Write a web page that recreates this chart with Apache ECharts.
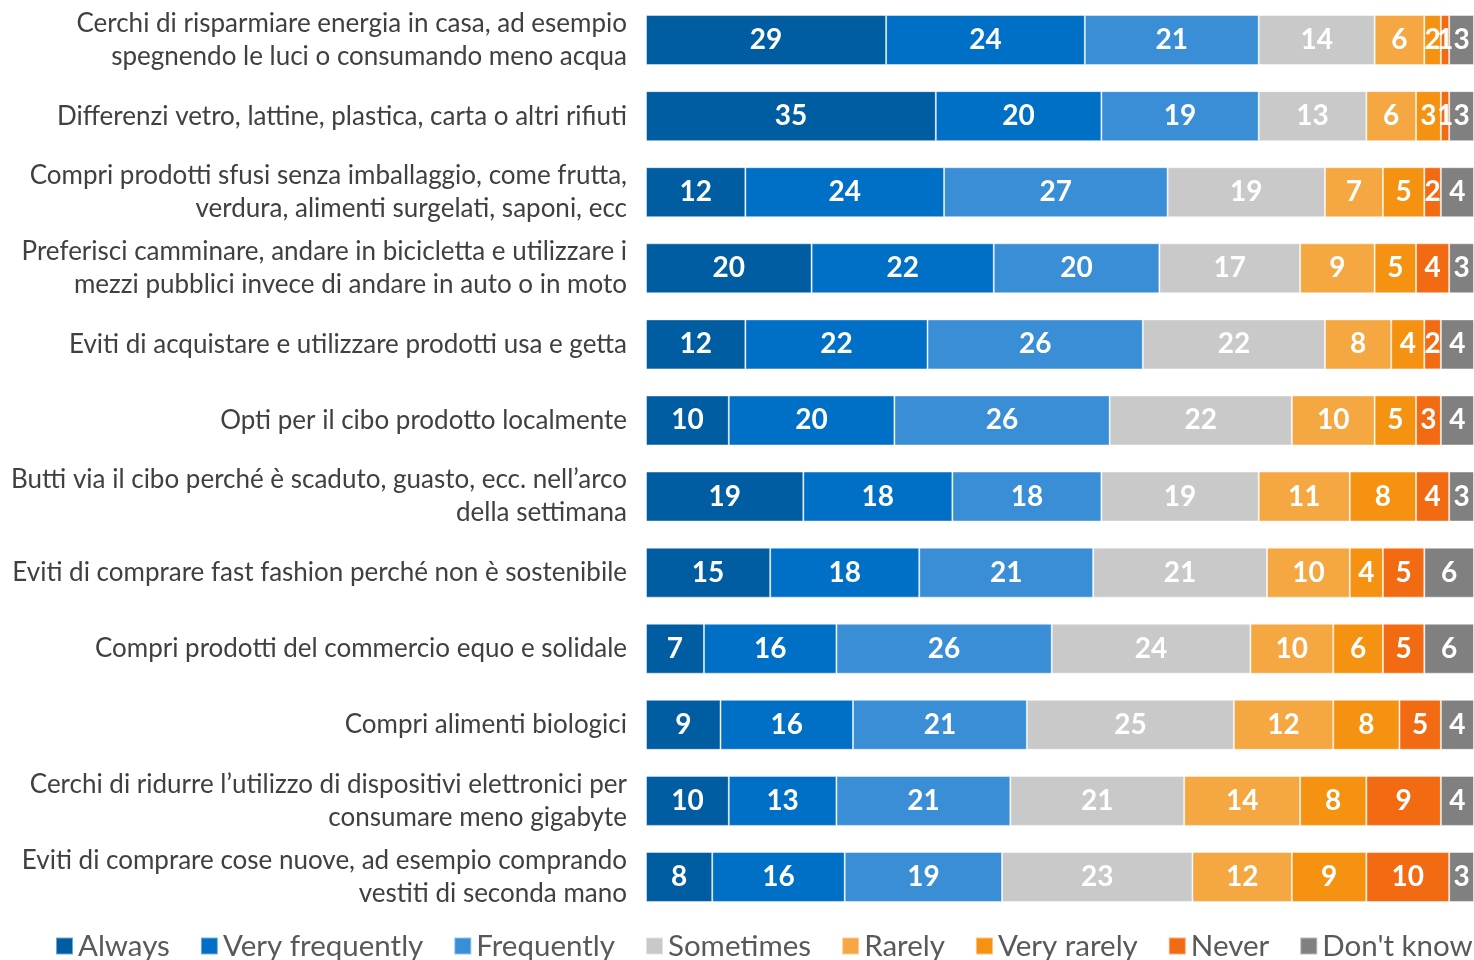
<!DOCTYPE html>
<html>
<head>
<meta charset="utf-8">
<script src="https://cdn.jsdelivr.net/npm/echarts@6/dist/echarts.min.js"></script>
<style>
  html, body { margin: 0; padding: 0; background: #fff; }
  #chart { width: 1474px; height: 960px; }
</style>
</head>
<body>
<div id="chart"></div>
<script>
// categories, top to bottom
var categories = [
  'Cerchi di risparmiare energia in casa, ad esempio\nspegnendo le luci o consumando meno acqua',
  'Differenzi vetro, lattine, plastica, carta o altri rifiuti',
  'Compri prodotti sfusi senza imballaggio, come frutta,\nverdura, alimenti surgelati, saponi, ecc',
  'Preferisci camminare, andare in bicicletta e utilizzare i\nmezzi pubblici invece di andare in auto o in moto',
  'Eviti di acquistare e utilizzare prodotti usa e getta',
  'Opti per il cibo prodotto localmente',
  'Butti via il cibo perché è scaduto, guasto, ecc. nell\u2019arco\ndella settimana',
  'Eviti di comprare fast fashion perché non è sostenibile',
  'Compri prodotti del commercio equo e solidale',
  'Compri alimenti biologici',
  'Cerchi di ridurre l\u2019utilizzo di dispositivi elettronici per\nconsumare meno gigabyte',
  'Eviti di comprare cose nuove, ad esempio comprando\nvestiti di seconda mano'
];

var always         = [29, 35, 12, 20, 12, 10, 19, 15,  7,  9, 10,  8];
var veryFrequently = [24, 20, 24, 22, 22, 20, 18, 18, 16, 16, 13, 16];
var frequently     = [21, 19, 27, 20, 26, 26, 18, 21, 26, 21, 21, 19];
var sometimes      = [14, 13, 19, 17, 22, 22, 19, 21, 24, 25, 21, 23];
var rarely         = [ 6,  6,  7,  9,  8, 10, 11, 10, 10, 12, 14, 12];
var veryRarely     = [ 2,  3,  5,  5,  4,  5,  8,  4,  6,  8,  8,  9];
var never          = [ 1,  1,  2,  4,  2,  3,  4,  5,  5,  5,  9, 10];
var dontKnow       = [ 3,  3,  4,  3,  4,  4,  3,  6,  6,  4,  4,  3];

var seriesNames = ['Always', 'Very frequently', 'Frequently', 'Sometimes', 'Rarely', 'Very rarely', 'Never', "Don't know"];
var seriesData = [always, veryFrequently, frequently, sometimes, rarely, veryRarely, never, dontKnow];
var colors = ['#005DA2', '#006FC6', '#3A8ED6', '#C9C9C9', '#F5A742', '#F59212', '#F26B12', '#808080'];

var font = 'Lato, "Open Sans", sans-serif';

var myChart = echarts.init(document.getElementById('chart'));

var series = seriesNames.map(function (name, i) {
  return {
    name: name,
    type: 'bar',
    stack: 'total',
    barWidth: 50,
    data: seriesData[i],
    itemStyle: {
      color: colors[i],
      borderColor: 'rgba(255,255,255,0.45)',
      borderWidth: 1
    },
    label: {
      show: true,
      position: 'inside',
      color: '#fff',
      fontFamily: font,
      fontWeight: 'bold',
      fontSize: 28
    }
  };
});

var option = {
  animation: false,
  color: colors,
  grid: { left: 646, right: 0, top: 2, height: 913, containLabel: false },
  legend: {
    bottom: -1,
    left: 55,
    width: 1460,
    padding: 0,
    itemWidth: 17,
    itemHeight: 17,
    itemGap: 30,
    icon: 'rect',
    textStyle: { fontFamily: font, fontSize: 29.5, color: '#595959' },
    data: seriesNames
  },
  xAxis: {
    type: 'value',
    min: 0,
    max: 100,
    show: false
  },
  yAxis: {
    type: 'category',
    inverse: true,
    data: categories,
    axisLine: { show: false },
    axisTick: { show: false },
    axisLabel: {
      margin: 19,
      fontFamily: font,
      fontSize: 26,
      lineHeight: 33,
      color: '#404040',
      align: 'right'
    }
  },
  series: series
};

myChart.setOption(option);
</script>
</body>
</html>
